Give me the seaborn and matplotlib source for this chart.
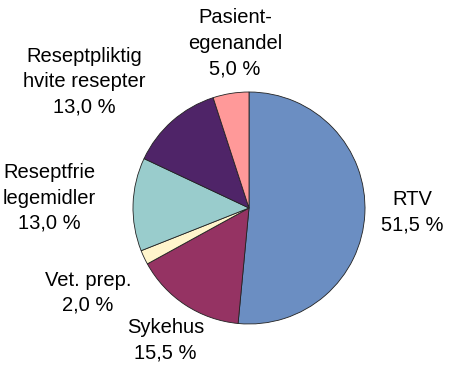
import matplotlib
matplotlib.use('Agg')
import matplotlib.pyplot as plt
import seaborn as sns

labels = ['RTV', 'Sykehus', 'Vet. prep.', 'Reseptfrie\nlegemidler',
          'Reseptpliktig\nhvite resepter', 'Pasient-\negenandel']
values = [51.5, 15.5, 2.0, 13.0, 13.0, 5.0]
colors = ['#6B8EC2', '#953363', '#FFF5CC', '#99CCCC', '#4F2468', '#FF9999']

# label positions (pie radius = 1)
label_x = [1.41, -0.72, -1.39, -1.72, -1.42, -0.12]
label_y = [-0.04, -1.14, -0.73, 0.086, 1.09, 1.42]

sns.set_theme(style='white')
plt.rcParams['font.family'] = ['Liberation Sans', 'DejaVu Sans']

fig = plt.figure(figsize=(4.51, 3.67), dpi=100)
ax = fig.add_axes([0, 0, 1, 1])
pal = sns.color_palette(colors)
ax.pie(values, colors=pal, startangle=90, counterclock=False,
       wedgeprops={'edgecolor': '#222222', 'linewidth': 0.6})

for lab, v, x, y in zip(labels, values, label_x, label_y):
    txt = lab + '\n' + f'{v:.1f} %'.replace('.', ',')
    ax.text(x, y, txt, ha='center', va='center', fontsize=14.5,
            linespacing=1.42, color='black')

ax.set_xlim(-249 / 116, (451 - 249) / 116)
ax.set_ylim(-(367 - 208) / 116, 208 / 116)
ax.set_aspect('auto')
ax.axis('off')

fig.savefig('out.png', dpi=100)
